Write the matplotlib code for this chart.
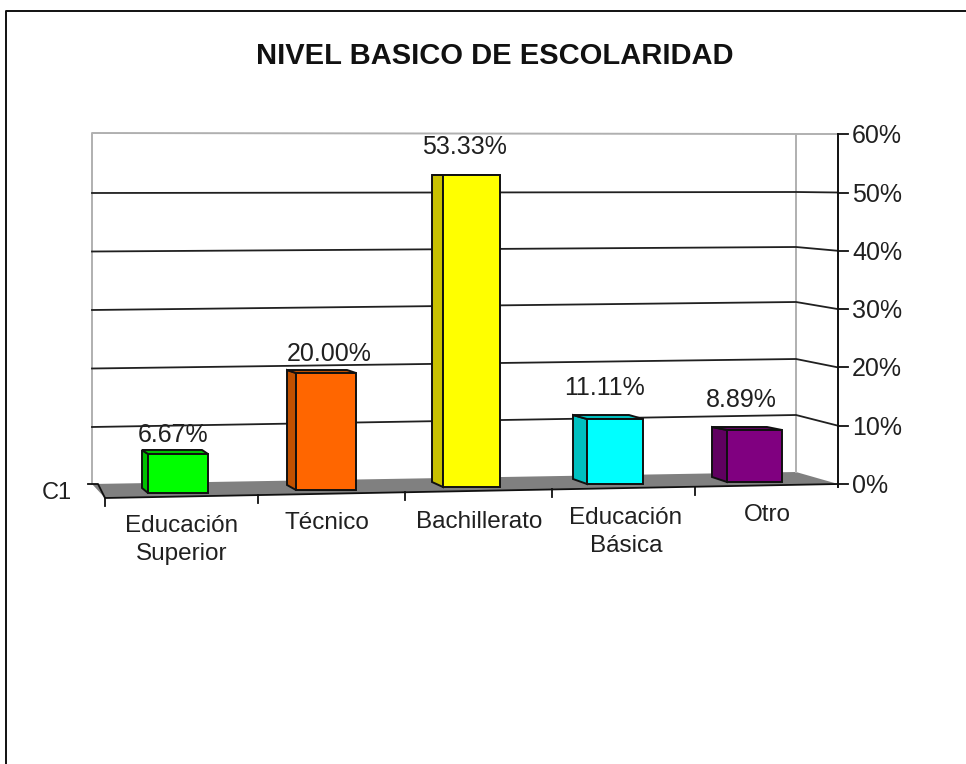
import matplotlib
matplotlib.use("Agg")
import matplotlib.pyplot as plt

plt.rcParams["font.family"] = ["Liberation Sans", "DejaVu Sans"]

# Data
categories = ["Educación\nSuperior", "Técnico", "Bachillerato", "Educación\nBásica", "Otro"]
values = [6.67, 20.00, 53.33, 11.11, 8.89]
tick_values = [0, 10, 20, 30, 40, 50, 60]
series_name = "C1"
title = "NIVEL BASICO DE ESCOLARIDAD"

# Colours
front_colors = ["#00ff00", "#ff6600", "#ffff00", "#00ffff", "#800080"]
side_colors = ["#00c000", "#c05000", "#c8c000", "#00c0c0", "#600060"]

# Layout of the fake 3D box, in pixels
px_per_unit = 5.85
bar_left = [148, 296, 443, 587, 727]
bar_width = [60, 60, 57, 56, 55]
bar_base = [493, 490, 487, 484, 482]
depth_x = [6, 9, 11, 14, 15]
depth_y = [4, 3, 0, 4, 3]
label_x = [173, 329, 464, 605, 741]
label_gap = [21, 21, 30, 33, 32]
cat_x = [182, 327, 479, 626, 767]
cat_top = [515, 512, 511, 507, 504]
cat_ticks = [(105, 498), (258, 495), (405, 492), (552, 489), (695, 487)]
wall_right_y = [472, 415, 359, 302, 247, 192, 134]
wall_left, wall_right, axis_x, axis_base = 92, 796, 838, 484

fig = plt.figure(figsize=(9.66, 7.64), dpi=100)
ax = fig.add_axes([0, 0, 1, 1])
ax.set_xlim(0, 966)
ax.set_ylim(764, 0)
ax.axis("off")

# Outer frame
ax.plot([6, 6, 966], [764, 11, 11], color="#101010", lw=1.4)

# Floor and walls
ax.fill([wall_left, 105, axis_x, wall_right], [axis_base, 498, axis_base, 472], color="#808080", lw=0, zorder=1)
ax.plot([wall_left, wall_left, wall_right, wall_right], [axis_base, 133, 134, 472], color="#b0b0b0", lw=1.4, zorder=1)
ax.plot([wall_right, axis_x], [134, 134], color="#b0b0b0", lw=1.4, zorder=1)

# Grid lines run along the back wall then drop to the axis
for t, wy in zip(tick_values[1:-1], wall_right_y[1:-1]):
    ax.plot([wall_left, wall_right, axis_x],
            [axis_base + 1.5 - t * px_per_unit, wy, axis_base - t * 5.83],
            color="#202020", lw=1.3, zorder=2)

# Bars
for i, v in enumerate(values):
    h = v * px_per_unit
    x0 = bar_left[i]
    x1 = x0 + bar_width[i]
    base = bar_base[i]
    top = base - h
    dx = depth_x[i]
    dy = depth_y[i]
    ax.fill([x0 - dx, x0, x0, x0 - dx], [base - 5, base, top, top - dy],
            facecolor=side_colors[i], edgecolor="#101010", lw=1.4, zorder=3)
    ax.fill([x0 - dx, x0, x1, x1 - dx], [top - dy, top, top, top - dy],
            facecolor=side_colors[i], edgecolor="#101010", lw=1.4, zorder=3)
    ax.bar(x0, -h, width=bar_width[i], bottom=base, align="edge",
           color=front_colors[i], edgecolor="#101010", lw=1.4, zorder=4)
    ax.text(label_x[i], top - label_gap[i] + 2, f"{v:.2f}%", fontsize=18, color="#202020",
            ha="center", va="center", zorder=5)

# Front edge and category ticks
ax.plot([88, 98, 105, axis_x], [484, 484, 498, axis_base], color="#101010", lw=1.3, zorder=2)
for (tx, ty) in cat_ticks:
    ax.plot([tx, tx], [ty, ty + 8], color="#101010", lw=1.3)
for i, c in enumerate(categories):
    ax.text(cat_x[i], cat_top[i], c, fontsize=17.5, color="#202020", ha="center", va="top", linespacing=1.38)

ax.text(57, 493, series_name, fontsize=17, color="#202020", ha="center", va="center")

# Value axis on the right
ax.plot([axis_x, axis_x], [axis_base - 60 * 5.83, axis_base + 3], color="#101010", lw=1.4, zorder=3)
for t in tick_values:
    y = axis_base - t * 5.83
    ax.plot([axis_x, axis_x + 10], [y, y], color="#101010", lw=1.3, zorder=3)
    ax.text(axis_x + 14, y + 2, f"{t}%", fontsize=18, color="#202020", ha="left", va="center")

ax.text(495, 56, title, fontsize=21, fontweight="bold", color="#111111", ha="center", va="center")

fig.savefig("out.png", dpi=100)
